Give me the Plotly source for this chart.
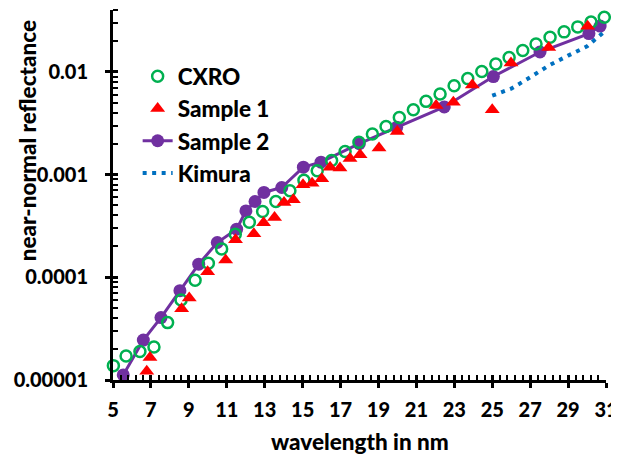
import plotly.graph_objects as go
import math

# ---------------- data ----------------
cxro_x = [5.02, 5.69, 6.42, 7.16, 7.88, 8.59, 9.33, 10.03, 10.73, 11.45, 12.19, 12.89,
          13.59, 14.33, 15.07, 15.77, 16.53, 17.24, 17.97, 18.68, 19.40, 20.10, 20.84,
          21.51, 22.25, 22.99, 23.71, 24.45, 25.19, 25.89, 26.61, 27.31, 28.05, 28.79,
          29.51, 30.21, 30.91]
cxro_y = [1.38e-5, 1.71e-5, 1.89e-5, 2.10e-5, 3.62e-5, 6.02e-5, 9.37e-5, 1.37e-4,
          1.89e-4, 2.63e-4, 3.44e-4, 4.37e-4, 5.47e-4, 6.95e-4, 8.80e-4, 1.09e-3,
          1.37e-3, 1.68e-3, 2.06e-3, 2.48e-3, 2.94e-3, 3.60e-3, 4.28e-3, 5.16e-3,
          6.09e-3, 7.33e-3, 8.59e-3, 0.0101, 0.0119, 0.0138, 0.0161, 0.0187, 0.0217,
          0.0245, 0.0274, 0.0306, 0.0340]

s1_x = [6.78, 6.95, 8.62, 9.02, 9.99, 10.94, 11.46, 12.43, 12.94, 13.52, 14.02, 14.51,
        15.02, 15.50, 16.01, 16.45, 16.97, 17.50, 18.03, 19.03, 19.99, 22.04, 22.95,
        23.95, 25.00, 25.99, 27.98, 30.03]
s1_y = [1.22e-5, 1.66e-5, 4.95e-5, 6.3e-5, 1.13e-4, 1.47e-4, 2.32e-4, 2.65e-4, 3.39e-4,
        3.82e-4, 5.35e-4, 5.68e-4, 7.96e-4, 8.23e-4, 9.1e-4, 1.18e-3, 1.16e-3, 1.43e-3,
        1.56e-3, 1.81e-3, 2.63e-3, 4.69e-3, 5.05e-3, 7.45e-3, 4.28e-3, 0.0122, 0.0173,
        0.0278]

s2_x = [5.54, 6.60, 7.53, 8.53, 9.52, 10.50, 11.52, 12.01, 12.49, 12.96, 13.90, 15.04,
        15.97, 17.99, 19.96, 22.47, 25.06, 27.52, 30.10, 30.69]
s2_y = [1.12e-5, 2.45e-5, 4.05e-5, 7.4e-5, 1.34e-4, 2.18e-4, 2.94e-4, 4.43e-4, 5.47e-4,
        6.7e-4, 7.48e-4, 1.18e-3, 1.32e-3, 2.0e-3, 2.88e-3, 4.55e-3, 9.0e-3, 0.0156,
        0.0236, 0.0279]

kim_x = [25, 26, 27, 28, 29, 30, 31]
kim_y = [5.86e-3, 6.86e-3, 8.84e-3, 0.01157, 0.0144, 0.0177, 0.0254]

x_major = [5, 7, 9, 11, 13, 15, 17, 19, 21, 23, 25, 27, 29, 31]
x_tick_text = [str(v) for v in x_major]
y_major = [1e-5, 1e-4, 1e-3, 1e-2]
y_tick_text = ["0.00001", "0.0001", "0.001", "0.01"]
y_top = 0.04
x_title = "wavelength in nm"
y_title = "near-normal reflectance"

# minor tick positions
x_minor = []
for a in x_major[:-1]:
    for k in range(1, 5):
        x_minor.append(round(a + 0.4 * k, 2))
y_minor = []
for d in y_major:
    for m in range(2, 10):
        v = d * m
        if v <= y_top * 1.0001:
            y_minor.append(v)

y_range = [math.log10(1e-5), math.log10(y_top)]
x_range = [5, 31]

FONT = "Lato"
TITLE_SIZE = 22.5

fig = go.Figure()

fig.add_trace(go.Scatter(
    x=s2_x, y=s2_y, name="Sample 2", mode="lines+markers",
    line=dict(color="#7030A0", width=3),
    marker=dict(symbol="circle", size=13, color="#7030A0"),
    legendrank=3, legendgroup="c", cliponaxis=False))
fig.add_trace(go.Scatter(
    x=kim_x, y=kim_y, name="Kimura", mode="lines",
    line=dict(color="#0070C0", width=4, dash="4px,5.5px"),
    legendrank=4, legendgroup="d"))
fig.add_trace(go.Scatter(
    x=cxro_x, y=cxro_y, name="CXRO", mode="markers",
    marker=dict(symbol="circle-open", size=11, color="#00B050", line=dict(width=2.5, color="#00B050")),
    legendrank=1, legendgroup="a", cliponaxis=False))
fig.add_trace(go.Scatter(
    x=s1_x, y=s1_y, name="Sample 1", mode="markers",
    marker=dict(symbol="triangle-up", size=13, color="#FF0000"),
    legendrank=2, legendgroup="b", cliponaxis=False))

axis_common = dict(showline=True, linecolor="black", linewidth=3, showgrid=False,
                   zeroline=False, mirror=False, automargin=False)

# the page body has an 8px default margin, so the figure is sized to fit the window
fig.update_layout(
    width=611, height=447,
    margin=dict(l=105, r=13, t=2, b=75),
    paper_bgcolor="white", plot_bgcolor="white",
    font=dict(family=FONT, size=20, color="black", weight=900),
    showlegend=True,
    legend=dict(x=0.05, y=0.878, xanchor="left", yanchor="top",
                bgcolor="rgba(0,0,0,0)", tracegroupgap=0,
                font=dict(family=FONT, size=TITLE_SIZE, color="black", weight=900)),
    xaxis=dict(range=x_range, tickmode="array", tickvals=x_major, ticktext=x_tick_text,
               ticks="outside", ticklen=5, tickwidth=2.5, tickcolor="black",
               ticklabelstandoff=5,
               minor=dict(tickmode="array", tickvals=x_minor, ticks="inside",
                          ticklen=5, tickwidth=2, tickcolor="black"),
               **axis_common),
    yaxis=dict(type="log", range=y_range, tickmode="array", tickvals=y_major,
               ticktext=y_tick_text, ticks="outside", ticklen=5, tickwidth=2.5,
               tickcolor="black", ticklabelstandoff=13,
               minor=dict(tickmode="array", tickvals=y_minor, ticks="inside",
                          ticklen=5, tickwidth=2, tickcolor="black"),
               **axis_common),
    xaxis2=dict(overlaying="x", anchor="y", range=x_range, tickmode="array",
                tickvals=x_major, ticks="inside", ticklen=5, tickwidth=2.5,
                tickcolor="black", showticklabels=False, showline=False,
                showgrid=False, zeroline=False),
    yaxis2=dict(overlaying="y", anchor="x", type="log", range=y_range, tickmode="array",
                tickvals=y_major + [y_top], ticks="inside", ticklen=5, tickwidth=2.5,
                tickcolor="black", showticklabels=False, showline=False,
                showgrid=False, zeroline=False),
    annotations=[
        dict(text=x_title, xref="paper", yref="paper", x=0.5, y=-0.165,
             xanchor="center", yanchor="middle", showarrow=False,
             font=dict(family=FONT, size=TITLE_SIZE, color="black", weight=900)),
        dict(text=y_title, xref="paper", yref="paper", x=-0.1744, y=0.645,
             xanchor="center", yanchor="middle", showarrow=False, textangle=-90,
             font=dict(family=FONT, size=TITLE_SIZE, color="black", weight=900)),
    ],
)

# invisible helper trace so the overlay axes are drawn
fig.add_trace(go.Scatter(x=[x_range[0]], y=[1e-5], xaxis="x2", yaxis="y2",
                         mode="markers", marker=dict(opacity=0), showlegend=False,
                         hoverinfo="skip"))

fig.write_html("out.html")
